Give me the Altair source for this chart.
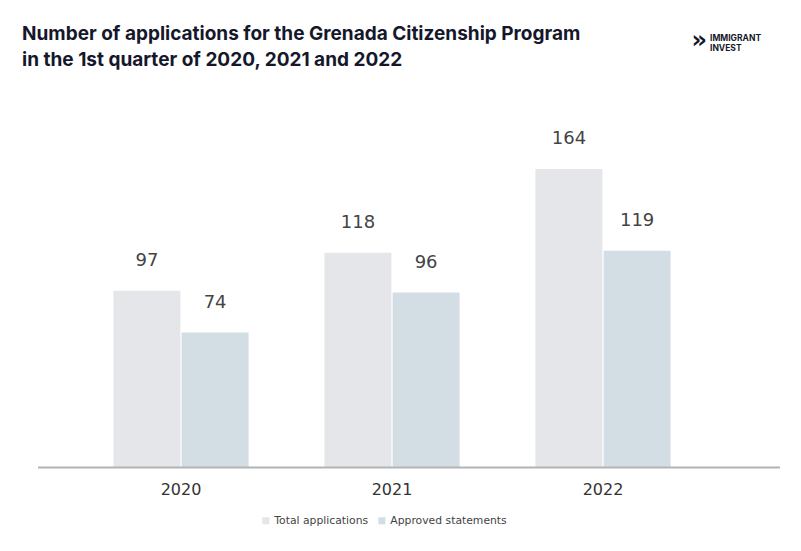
import altair as alt
import pandas as pd

years = ["2020", "2021", "2022"]
series = ["Total applications", "Approved statements"]
total_values = [97, 118, 164]
approved_values = [74, 96, 119]
colors = ["#e5e6ea", "#d3dee4"]

rows = []
for y, t, a in zip(years, total_values, approved_values):
    rows.append({"year": y, "series": series[0], "value": t})
    rows.append({"year": y, "series": series[1], "value": a})
df = pd.DataFrame(rows)

W, H = 633, 327

x = alt.X("year:N", sort=years, title=None,
          scale=alt.Scale(paddingInner=0.36, paddingOuter=0.18),
          axis=alt.Axis(labelAngle=0, domain=False, ticks=False, labelPadding=14,
                        labelFontSize=16, labelColor="#333333", labelFont="DejaVu Sans"))
xo = alt.XOffset("series:N", sort=series, scale=alt.Scale(paddingInner=0.02))
yenc = alt.Y("value:Q", scale=alt.Scale(domain=[0, 180]), axis=None)

base = alt.Chart(df).encode(x=x, xOffset=xo, y=yenc)

bars = base.mark_bar(size=67).encode(
    color=alt.Color("series:N", sort=series,
                    scale=alt.Scale(domain=series, range=colors),
                    legend=alt.Legend(title=None, orient="none", legendX=185, legendY=375,
                                      direction="horizontal", symbolType="square",
                                      symbolSize=50, labelFontSize=10.8, labelFont="DejaVu Sans",
                                      labelColor="#444444", columnPadding=8, labelOffset=3,
                                      symbolStrokeWidth=0))
)

labels = base.mark_text(baseline="alphabetic", dy=-25, fontSize=18, font="DejaVu Sans",
                        color="#444444").encode(text="value:Q")

axis_line = alt.Chart(pd.DataFrame({"a": [0]})).mark_rule(color="#b3b3b3", strokeWidth=2).encode(
    x=alt.value(-37.5), x2=alt.value(704.5), y=alt.value(H + 0.5))

title_df = pd.DataFrame({"t": ["Number of applications for the Grenada Citizenship Program",
                               "in the 1st quarter of 2020, 2021 and 2022"],
                         "yy": [-100, -74]})
title = alt.Chart(title_df).mark_text(align="left", baseline="alphabetic", fontSize=19,
                                      font="Inter", fontWeight="bold", color="#15172b").encode(
    x=alt.value(-53.5), y=alt.Y("yy:Q", scale=None), text="t:N")

logo_df = pd.DataFrame({"t": ["IMMIGRANT", "INVEST"], "yy": [-99, -89.5]})
logo = alt.Chart(logo_df).mark_text(align="left", baseline="alphabetic", fontSize=8.5,
                                    font="Inter", fontWeight="bold", color="#15172b",
                                    lineHeight=8).encode(
    x=alt.value(634.5), y=alt.Y("yy:Q", scale=None), text="t:N")
chevron = alt.Chart(pd.DataFrame({"t": ["»"]})).mark_text(
    align="left", baseline="middle", fontSize=24, font="DejaVu Sans", fontWeight="bold",
    color="#15172b").encode(x=alt.value(616), y=alt.value(-99), text="t:N")

chart = alt.layer(bars, labels, axis_line, title, logo, chevron).properties(
    width=W, height=H,
    padding={"left": 67.5, "top": 132, "right": 84, "bottom": 76},
    autosize=alt.AutoSizeParams(type="none"),
    background="white",
).configure_view(stroke=None)

chart.save("out.html", embed_options={"renderer": "svg", "actions": False})
